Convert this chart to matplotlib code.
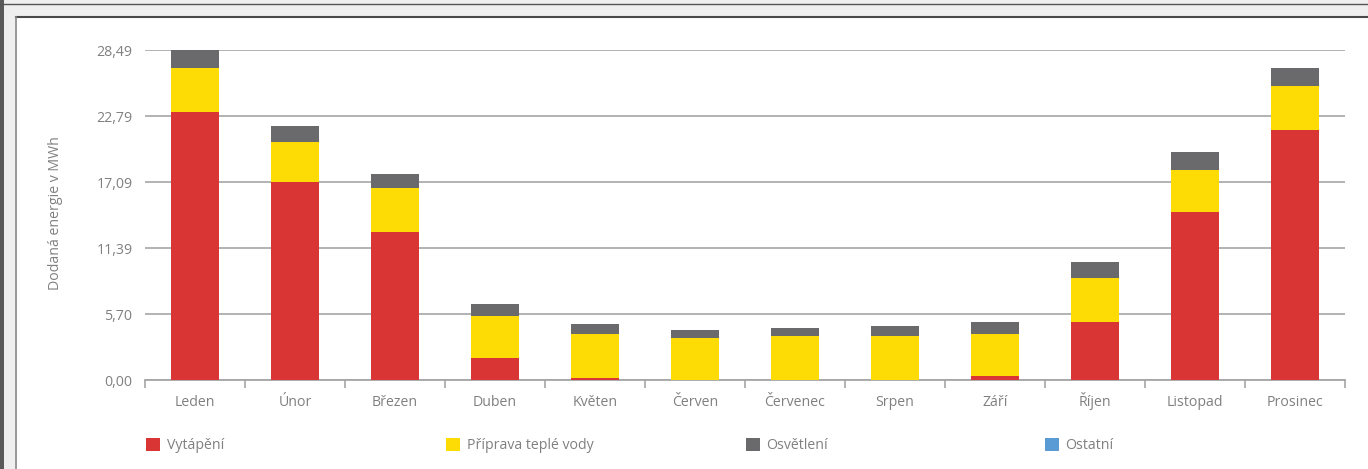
import matplotlib
matplotlib.use("Agg")
import matplotlib.pyplot as plt
from matplotlib.patches import Rectangle, Patch
from matplotlib.lines import Line2D
import numpy as np

months = ["Leden", "Únor", "Březen", "Duben", "Květen", "Červen", "Červenec",
          "Srpen", "Září", "Říjen", "Listopad", "Prosinec"]
vytapeni = [23.14, 17.09, 12.78, 1.90, 0.17, 0.00, 0.00, 0.00, 0.35, 5.01, 14.50, 21.58]
voda = [3.80, 3.46, 3.80, 3.63, 3.80, 3.63, 3.80, 3.80, 3.62, 3.80, 3.63, 3.80]
osvetleni = [1.55, 1.38, 1.20, 1.04, 0.86, 0.69, 0.69, 0.86, 1.04, 1.38, 1.55, 1.55]
ostatni = [0.0] * 12
series_names = ["Vytápění", "Příprava teplé vody", "Osvětlení", "Ostatní"]
y_max = 28.486
ytick_labels = ["0,00", "5,70", "11,39", "17,09", "22,79", "28,49"]
y_label = "Dodaná energie v MWh"

colors = ["#DA3535", "#FCDC04", "#6A6A6C", "#5B9BD5"]
text_color = "#808080"
grid_color = "#A6A6A6"

W, H = 1368, 469
fig = plt.figure(figsize=(W / 100, H / 100), dpi=100)
fig.patch.set_facecolor("white")
plt.rcParams["font.family"] = ["Open Sans", "DejaVu Sans"]

def fx(px):
    return px / W

def fy(py):
    return 1 - py / H

# window frame decorations
fig.patches.append(Rectangle((0, fy(18)), 1, fy(0) - fy(18), transform=fig.transFigure,
                             facecolor="#EFEFEF", edgecolor="none", zorder=0))
fig.patches.append(Rectangle((0, 0), fx(15), 1, transform=fig.transFigure,
                             facecolor="#EFEFEF", edgecolor="none", zorder=0))
fig.patches.append(Rectangle((0, 0), fx(4), 1, transform=fig.transFigure,
                             facecolor="#5A5A5A", edgecolor="none", zorder=1))
fig.lines.append(Line2D([0, 1], [fy(4.5), fy(4.5)], transform=fig.transFigure,
                        color="#555555", lw=1.0))
fig.lines.append(Line2D([fx(15.5), 1], [fy(17.5), fy(17.5)], transform=fig.transFigure,
                        color="#4A4A4A", lw=1.5))
fig.lines.append(Line2D([fx(15.5), fx(15.5)], [0, fy(17.5)], transform=fig.transFigure,
                        color="#888888", lw=1.2))

ax = fig.add_axes([fx(145), fy(380), fx(1345) - fx(145), fy(50) - fy(380)])
x = np.arange(len(months))
bw = 0.48
bottom = np.zeros(len(months))
data = [vytapeni, voda, osvetleni, ostatni]
for vals, c in zip(data, colors):
    vals = np.array(vals)
    ax.bar(x, vals, bw, bottom=bottom, color=c, zorder=3, linewidth=0)
    bottom += vals

ax.set_xlim(-0.5, len(months) - 0.5)
ax.set_ylim(0, y_max)
yt = np.linspace(0, y_max, len(ytick_labels))
ax.set_yticks(yt)
ax.set_yticklabels(ytick_labels)
ax.yaxis.grid(True, color=grid_color, lw=1.2, zorder=0)
ax.set_axisbelow(True)
ax.tick_params(axis="y", length=0, pad=9, labelsize=10.2, labelcolor=text_color)

ax.set_xticks(x)
ax.set_xticklabels(months, va="baseline")
ax.set_xticks(np.arange(-0.5, len(months)), minor=True)
ax.tick_params(axis="x", which="major", length=0, pad=18.5, labelsize=10.2, labelcolor=text_color)
ax.tick_params(axis="x", which="minor", length=6, width=1.2, color=grid_color)

for s in ["top", "right", "left"]:
    ax.spines[s].set_visible(False)
ax.spines["bottom"].set_color(grid_color)
ax.spines["bottom"].set_linewidth(1.3)

fig.text(fx(56), fy(213), y_label, rotation=90, ha="center", va="center",
         fontsize=10.2, color=text_color)

# legend: four items spaced evenly
leg_x = [146, 446, 746, 1045]
for name, c, lx in zip(series_names, colors, leg_x):
    lg = fig.legend(handles=[Patch(facecolor=c, edgecolor="none")], labels=[name],
                    loc="center left", bbox_to_anchor=(fx(lx), fy(445.5)),
                    bbox_transform=fig.transFigure, frameon=False, fontsize=10.2,
                    handlelength=1.0, handleheight=1.0, handletextpad=0.45,
                    borderpad=0, borderaxespad=0, labelcolor=text_color)

fig.savefig("out.png", dpi=100, facecolor="white")
